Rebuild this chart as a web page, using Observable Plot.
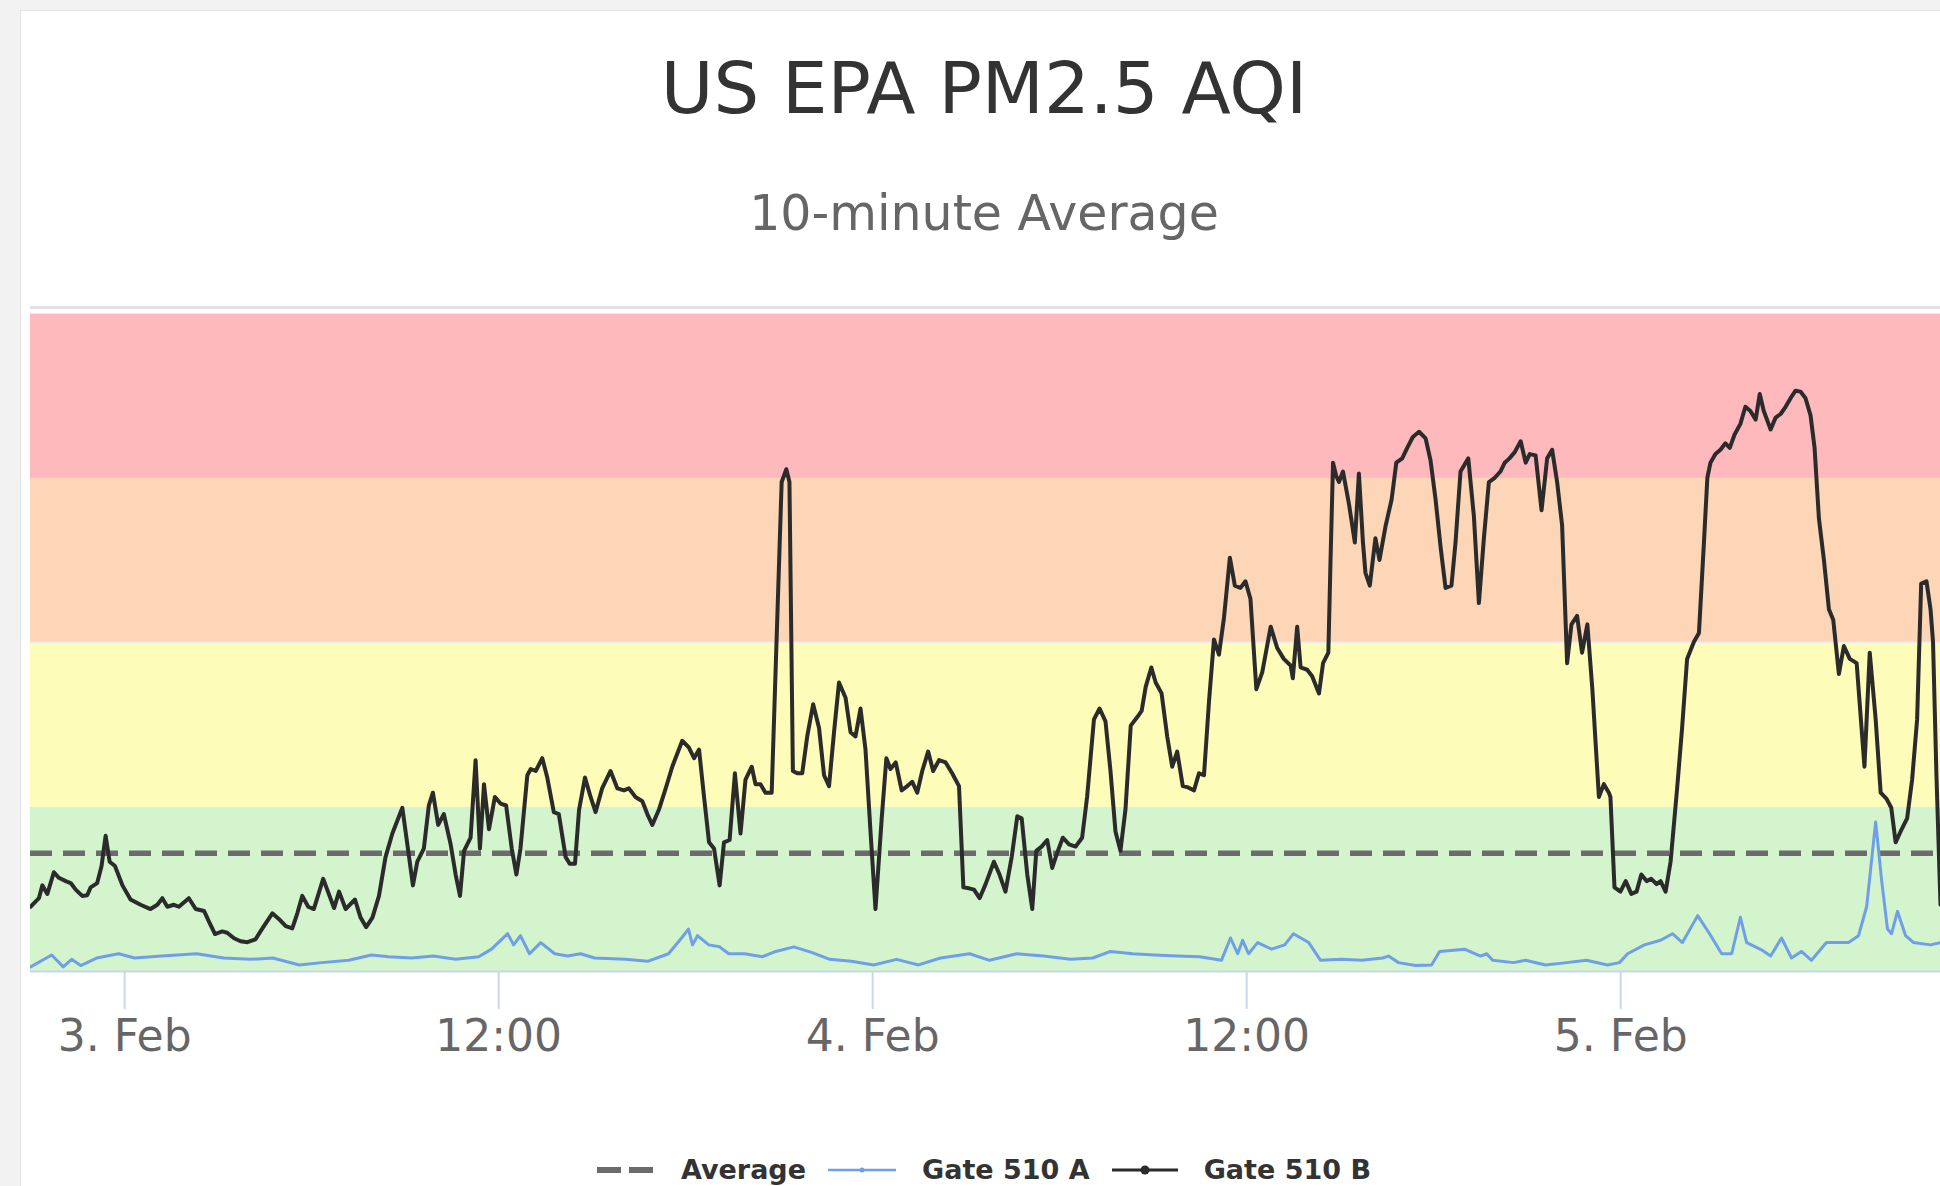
<!DOCTYPE html>
<html>
<head>
<meta charset="utf-8">
<script src="https://cdn.jsdelivr.net/npm/d3@7"></script>
<script src="https://cdn.jsdelivr.net/npm/@observablehq/plot@0.6"></script>
<style>
  html, body { margin: 0; padding: 0; width: 1940px; height: 1186px; overflow: hidden; background: #f2f2f2; font-family: "DejaVu Sans", sans-serif; }
  #card { position: absolute; left: 20px; top: 10px; width: 1960px; height: 1200px; background: #ffffff; border-left: 1px solid #e4e4e4; border-top: 1px solid #e4e4e4; }
  #title { position: absolute; left: 0; width: 1968px; top: 52px; text-align: center; font-size: 72px; line-height: 72px; color: #333333; white-space: nowrap; }
  #subtitle { position: absolute; left: 0; width: 1968px; top: 190px; text-align: center; font-size: 49px; line-height: 48px; color: #666666; white-space: nowrap; }
  #chart { position: absolute; left: 0; top: 260px; }
  #legend { position: absolute; left: 0; width: 1968px; top: 1154px; text-align: center; white-space: nowrap; }
  #legend .row { display: inline-flex; align-items: center; }
  #legend .item { display: inline-flex; align-items: center; margin: 0 11px; }
  #legend .label { font-weight: bold; font-size: 27px; color: #333333; margin-left: 26px; }
</style>
</head>
<body>
<div id="card"></div>
<div id="title"></div>
<div id="subtitle"></div>
<div id="chart"></div>
<div id="legend"></div>
<script>
// ---------------- data ----------------
const titleText = "US EPA PM2.5 AQI";
const subtitleText = "10-minute Average";
const startDay = Date.UTC(2019, 1, 3, 0, 0); // 3 Feb 00:00
const domainHours = [-3.02, 58.26];           // visible time window (hours from 3 Feb 00:00)
const monthNames = ["Jan","Feb","Mar","Apr","May","Jun","Jul","Aug","Sep","Oct","Nov","Dec"];

const seriesNames = ["Average", "Gate 510 A", "Gate 510 B"];
const averageAQI = 36;

// AQI category band limits
const bandLimits = [0, 50, 100, 150, 200];
const yTop = 202;

// Gate 510 B (hours from 3 Feb 00:00, AQI)
const hoursB = [
 -3.02,-2.75,-2.64,-2.48,-2.27,-2.11,-1.89,-1.73,-1.57,-1.36,-1.20,-1.09,-0.88,-0.74,-0.61,-0.48,-0.31,-0.07,
 0.19,0.51,0.83,1.05,1.21,1.37,1.58,1.74,1.90,2.06,2.28,2.55,2.71,2.90,3.13,3.29,3.51,3.72,3.94,4.20,4.42,4.74,
 5.00,5.17,5.38,5.54,5.70,5.89,6.07,6.37,6.55,6.72,6.88,7.09,
 7.39,7.57,7.75,7.95,8.16,8.37,8.59,8.91,9.07,9.25,9.39,9.60,9.76,9.89,10.06,10.24,10.46,10.62,10.76,10.89,
 11.10,11.26,11.40,11.53,11.69,11.88,12.06,12.24,12.42,12.57,12.70,12.92,13.03,13.19,13.40,13.56,13.77,13.93,
 14.15,14.28,14.45,14.58,14.77,14.95,15.11,15.32,15.59,15.81,16.02,16.18,16.39,16.61,16.77,16.93,17.14,17.36,
 17.57,17.89,18.10,18.27,18.43,18.59,18.75,18.91,19.09,19.23,19.41,19.58,19.76,19.92,20.12,20.24,20.40,20.56,
 20.76,21.08,21.23,21.33,21.44,21.58,21.74,21.90,22.09,22.28,22.44,22.60,22.76,22.92,23.13,23.29,23.45,23.61,
 23.77,23.93,24.09,24.29,24.44,24.57,24.74,24.93,25.11,25.27,25.43,25.59,25.78,25.94,26.13,26.34,26.55,26.77,
 26.91,27.09,27.25,27.43,27.62,
 27.89,28.07,28.26,28.46,28.64,28.78,28.96,29.12,29.25,29.42,29.60,29.76,29.92,30.10,30.30,30.51,30.72,30.88,
 31.10,31.28,31.47,31.63,31.79,31.95,32.11,32.28,32.49,32.63,32.76,32.94,33.08,33.27,33.45,33.61,33.77,33.95,
 34.12,34.31,34.47,34.63,34.79,34.95,35.11,35.27,35.46,35.62,35.80,35.96,36.12,36.31,36.50,36.77,36.98,37.19,
 37.41,37.48,37.62,37.73,37.94,
 38.10,38.32,38.45,38.62,38.69,38.77,38.87,38.96,39.09,39.28,39.47,39.60,39.73,39.81,39.95,40.13,40.26,40.46,
 40.65,40.80,40.99,41.15,41.33,41.53,41.74,41.90,42.06,42.22,42.38,42.57,42.70,42.86,43.11,43.29,43.45,43.61,
 43.77,43.96,44.14,44.28,44.43,44.60,44.79,44.95,45.08,45.27,45.46,45.64,45.80,45.96,46.12,46.28,46.42,46.60,
 46.76,46.93,47.09,47.30,47.46,47.62,47.67,47.80,
 47.99,48.16,48.34,48.51,48.66,48.83,48.98,49.15,49.28,49.44,49.60,49.81,49.97,50.13,50.35,50.51,50.67,50.78,
 50.88,51.04,51.20,51.36,51.50,51.65,51.84,52.00,52.16,52.33,52.46,52.59,52.81,52.97,53.13,53.29,53.45,53.61,
 53.77,53.93,54.09,54.22,54.36,54.52,54.68,54.82,55.00,55.16,55.35,55.57,55.82,55.99,56.18,56.34,56.53,56.68,
 56.82,56.98,57.19,57.35,57.51,57.64,57.81,57.94,58.02,58.13,58.26
];
const aqiB = [
 19.7,22.3,26.2,23.6,30.2,28.5,27.5,26.9,24.9,23.0,23.2,25.6,26.9,32.1,41.3,33.4,32.1,26.2,
 21.9,20.3,19.0,20.3,22.3,19.7,20.3,19.7,21.0,22.3,19.0,18.4,15.1,11.4,12.2,11.8,10.1,9.2,8.9,9.8,13.1,17.7,
 15.5,13.8,13.1,17.7,23.0,19.7,19.0,28.2,23.6,19.3,24.3,19.0,
 21.9,16.4,13.5,16.4,23.0,34.8,42.0,49.8,38.7,26.2,33.4,37.4,50.5,54.4,44.6,47.9,38.7,29.5,23.0,36.7,
 40.7,64.3,37.4,57.0,43.3,53.1,51.1,50.5,37.4,29.5,37.4,59.7,61.6,61.0,64.9,59.0,48.5,47.9,
 34.8,32.8,32.8,49.2,59.0,53.1,48.5,55.7,61.0,55.7,55.1,55.7,53.1,51.8,47.9,44.6,49.2,55.7,
 62.3,70.2,68.2,64.9,67.5,53.1,39.3,37.4,26.2,39.3,40.0,60.3,42.0,58.4,62.3,57.0,57.0,54.4,
 54.4,148.9,152.8,148.9,61.0,60.3,60.3,71.5,81.3,74.1,59.7,56.4,72.8,87.9,83.3,72.8,71.5,80.0,
 67.5,42.6,19.0,46.6,64.9,61.6,63.6,55.1,56.4,57.7,54.4,61.0,66.9,61.0,64.3,63.6,60.3,56.4,
 25.6,25.3,24.9,22.3,26.5,
 33.4,29.5,24.3,34.8,47.2,46.6,29.5,19.0,36.7,38.0,40.0,31.5,36.1,40.7,38.7,38.0,40.7,53.1,
 76.7,80.0,76.1,61.0,42.6,36.7,49.2,74.8,77.4,79.3,86.6,92.5,87.9,84.6,71.5,62.3,66.9,56.4,
 56.0,55.1,60.3,59.7,82.0,101.0,96.4,107.5,125.9,117.4,116.7,118.7,113.4,85.9,91.1,104.9,98.4,95.1,
 93.1,89.2,104.9,92.5,91.8,
 89.8,84.6,93.8,97.0,125.2,154.8,150.8,148.9,152.1,142.3,130.5,151.5,130.5,121.3,117.4,131.8,125.2,135.7,
 143.6,154.8,156.1,159.3,162.6,164.2,162.2,155.4,143.6,129.2,116.7,117.4,130.5,152.1,156.1,138.4,112.1,131.8,
 148.9,150.2,152.1,154.8,156.1,158.0,161.3,154.8,157.4,157.0,140.3,156.1,158.7,148.9,135.7,93.8,105.6,108.2,
 97.0,105.6,85.9,53.1,57.0,54.4,53.1,25.6,
 24.3,27.5,23.6,24.3,29.5,27.5,28.2,26.6,27.5,24.3,33.4,55.7,74.1,95.1,100.3,103.0,130.5,150.2,
 154.8,157.4,158.7,160.7,159.3,163.3,166.6,171.8,170.5,167.9,175.7,170.5,164.9,168.5,169.6,171.8,174.4,176.7,
 176.4,174.4,169.2,159.3,137.7,125.2,110.2,106.9,90.5,99.0,95.1,93.8,62.3,97.0,76.7,54.4,52.5,49.8,
 39.3,42.6,46.6,58.4,76.7,118.0,118.7,110.2,100.3,59.7,20.3
];

// Gate 510 A (hours from 3 Feb 00:00, AQI)
const hoursA = [
 -3.02,-2.34,-1.97,-1.70,-1.41,-0.90,-0.19,0.32,1.19,2.31,3.18,4.04,4.75,5.61,6.32,7.19,7.92,8.47,9.21,9.91,
 10.62,11.36,11.77,12.29,12.48,12.70,12.99,13.35,13.80,14.21,14.63,15.08,16.07,16.78,
 17.45,17.87,18.09,18.22,18.38,18.74,19.09,19.38,19.89,20.47,20.89,21.47,22.04,22.62,23.32,24.03,24.77,25.47,
 26.18,27.11,27.75,28.62,29.48,30.35,31.06,31.63,32.34,33.04,33.78,34.49,35.19,35.48,35.71,35.87,36.06,36.35,
 36.80,37.22,37.50,
 37.99,38.37,39.04,39.69,40.36,40.55,40.87,41.42,41.93,42.19,42.99,43.50,43.70,43.89,44.56,44.95,45.59,46.26,
 46.90,47.58,47.96,48.22,48.76,49.28,49.66,49.98,50.47,50.85,51.24,51.56,51.84,52.04,52.55,52.81,53.16,53.48,
 53.80,54.12,54.60,54.93,55.31,55.63,55.89,56.18,56.37,56.56,56.69,56.88,57.14,57.40,57.94,58.26
];
const aqiA = [
 1.4,5.0,1.4,3.7,1.8,4.1,5.4,4.1,4.7,5.4,4.1,3.7,4.1,2.0,2.7,3.4,5.0,4.5,4.1,4.7,
 3.7,4.5,6.8,11.5,8.1,10.9,5.4,8.8,5.4,4.7,5.4,4.1,3.7,3.1,
 5.4,10.2,12.9,8.1,10.9,8.1,7.5,5.4,5.4,4.5,6.1,7.5,5.8,3.7,3.1,2.0,3.7,2.0,
 4.1,5.4,3.4,5.4,4.7,3.7,4.1,6.1,5.4,5.0,4.7,4.5,3.4,10.2,5.4,9.5,5.4,8.8,
 6.8,8.1,11.5,
 8.8,3.4,3.7,3.4,4.1,4.7,2.7,1.8,2.0,6.1,6.8,4.7,5.4,3.4,2.7,3.4,2.0,2.7,
 3.4,2.0,2.7,5.4,8.1,9.5,11.5,8.8,17.0,11.5,5.4,5.4,16.5,8.8,6.4,4.7,10.2,4.1,
 6.1,3.4,8.8,8.8,8.8,10.9,19.7,45.5,27.8,12.9,11.5,18.3,10.9,8.8,8.1,8.8
];

// ---------------- styles ----------------
const bandColors = ["#d3f4cd", "#fefcb9", "#fcd6b6", "#fdb9bb"];
const colorA = "#6f9fe8";
const colorB = "#2b2b2b";
const colorAvg = "#6b6b6b";

// ---------------- build ----------------
const toDate = h => new Date(startDay + h * 3600e3);
const dataB = hoursB.map((h, i) => ({t: toDate(h), v: aqiB[i]}));
const dataA = hoursA.map((h, i) => ({t: toDate(h), v: aqiA[i]}));
const bands = bandColors.map((c, i) => ({lo: bandLimits[i], hi: bandLimits[i + 1], fill: c}));
const xDomain = domainHours.map(toDate);
const ticks = d3.utcHour.every(12).range(xDomain[0], xDomain[1]);
const fmt = d => d.getUTCHours() === 0 && d.getUTCMinutes() === 0
  ? `${d.getUTCDate()}. ${monthNames[d.getUTCMonth()]}`
  : d3.utcFormat("%H:%M")(d);

document.getElementById("title").textContent = titleText;
document.getElementById("subtitle").textContent = subtitleText;

const chart = Plot.plot({
  width: 1940,
  height: 811,
  marginTop: 47,
  marginBottom: 100,
  marginLeft: 30,
  marginRight: 0,
  style: {fontFamily: "DejaVu Sans, sans-serif", fontSize: "44px", background: "transparent", overflow: "visible"},
  x: {type: "utc", domain: xDomain},
  y: {domain: [0, yTop], axis: null},
  color: {type: "identity"},
  marks: [
    Plot.rectY(bands, {y1: "lo", y2: "hi", fill: "fill"}),
    Plot.ruleY([100], {stroke: "#eef0f6", strokeWidth: 2}),
    Plot.ruleY([yTop], {stroke: "#e2e2e2", strokeWidth: 3}),
    Plot.ruleY([averageAQI], {stroke: colorAvg, strokeWidth: 5.5, strokeDasharray: "22,11"}),
    Plot.line(dataA, {x: "t", y: "v", stroke: colorA, strokeWidth: 3, strokeLinejoin: "round", clip: true}),
    Plot.line(dataB, {x: "t", y: "v", stroke: colorB, strokeWidth: 4, strokeLinejoin: "round", clip: true}),
    Plot.ruleY([0], {stroke: "#ccd6eb", strokeWidth: 2}),
    Plot.axisX({ticks, tickFormat: fmt, tickSize: 38, tickPadding: 10, stroke: "#ccd6eb", strokeWidth: 2, fill: "#666666", fontSize: 44, label: null})
  ]
});
document.getElementById("chart").appendChild(chart);

// ---------------- legend ----------------
const legend = document.getElementById("legend");
const row = document.createElement("div");
row.className = "row";
const swatches = [
  `<svg width="58" height="20"><line x1="0" y1="10" x2="58" y2="10" stroke="${colorAvg}" stroke-width="6" stroke-dasharray="24,8"/></svg>`,
  `<svg width="68" height="20"><line x1="0" y1="10" x2="68" y2="10" stroke="${colorA}" stroke-width="2.5"/><circle cx="34" cy="10" r="2.5" fill="${colorA}"/></svg>`,
  `<svg width="66" height="20"><line x1="0" y1="10" x2="66" y2="10" stroke="${colorB}" stroke-width="3"/><circle cx="33" cy="10" r="4.5" fill="${colorB}"/></svg>`
];
seriesNames.forEach((name, i) => {
  const item = document.createElement("div");
  item.className = "item";
  item.innerHTML = swatches[i] + `<span class="label">${name}</span>`;
  row.appendChild(item);
});
legend.appendChild(row);
</script>
</body>
</html>
